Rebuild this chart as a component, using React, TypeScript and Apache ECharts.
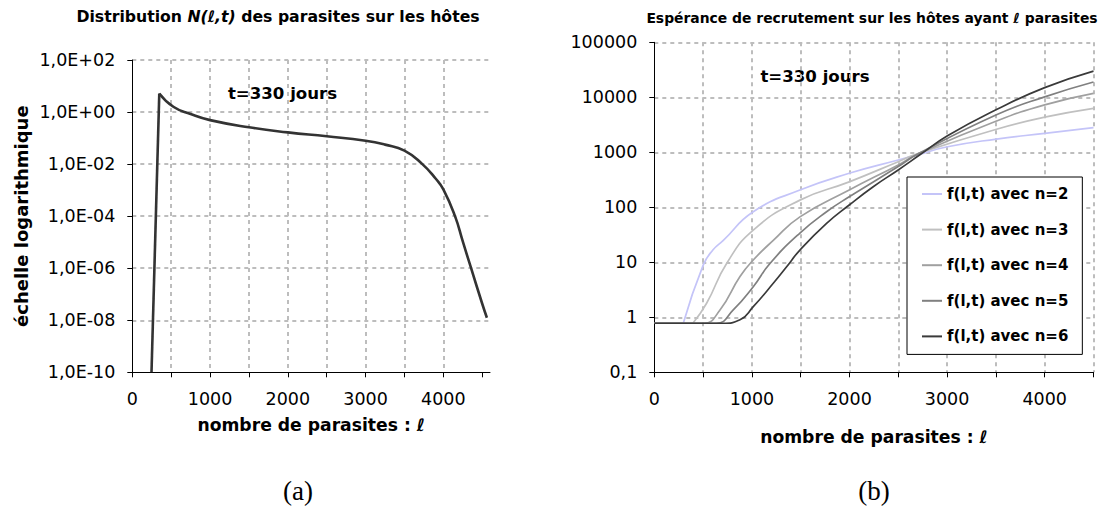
import React, { useEffect, useRef } from 'react';
import * as echarts from 'echarts';

const FONT = 'DejaVu Sans';
const SERIF = 'Liberation Serif';

// (a) Distribution N(ℓ,t) of parasites over hosts at t = 330 days
const distL = [247, 347, 528, 750, 1000, 1500, 2000, 2500, 3000, 3250, 3500, 3730, 3900, 4000, 4150, 4250, 4357, 4500, 4560];
const distN = [1e-10, 5.2, 1.6, 0.84, 0.49, 0.26, 0.166, 0.117, 0.079, 0.056, 0.033, 0.01, 2.8e-3, 1.07e-3, 1e-4, 1.07e-5, 1e-6, 4.3e-8, 1.25e-8];

// (b) Expected recruitment f(ℓ,t) for n = 2..6
const l2 = [0, 297, 500, 600, 707, 1014, 1492, 1997, 2499, 2700, 3004, 3506, 4000, 4500];
const f2 = [0.78, 0.78, 8.8, 16.7, 25, 83, 206, 415, 724, 900, 1260, 1740, 2210, 2800];
const l3 = [0, 395, 536, 741, 1014, 1492, 1997, 2499, 2700, 3506, 4000, 4500];
const f3 = [0.78, 0.78, 1.8, 9.5, 38.6, 135, 290, 675, 950, 2630, 4350, 6300];
const l4 = [0, 506, 673, 878, 1014, 1219, 1492, 1997, 2499, 2700, 3506, 4000, 4500];
const f4 = [0.78, 0.78, 1.36, 5.5, 11, 25, 67, 206, 590, 930, 3700, 7300, 11800];
const l5 = [0, 635, 809, 1014, 1185, 1492, 1765, 1997, 2499, 2700, 3506, 4000, 4500];
const f5 = [0.78, 0.78, 1.36, 3.6, 9.5, 34, 83, 155, 550, 930, 4800, 10200, 19000];
const l6 = [0, 700, 878, 1014, 1219, 1356, 1492, 1765, 1997, 2243, 2499, 2721, 3004, 3506, 4000, 4500];
const f6 = [0.78, 0.78, 0.9, 1.56, 4.15, 8.3, 16.7, 51, 110, 237, 478, 900, 2000, 6000, 15000, 30000];

const recruitNames = ['f(l,t) avec n=2', 'f(l,t) avec n=3', 'f(l,t) avec n=4', 'f(l,t) avec n=5', 'f(l,t) avec n=6'];
const recruitColors = ['#c4c4f8', '#c0c0c0', '#a0a0a0', '#808080', '#3a3a3a'];
const recruitL = [l2, l3, l4, l5, l6];
const recruitF = [f2, f3, f4, f5, f6];
// curves whose departure from the plateau is a sharp corner
const sharpCorner = [true, true, false, false, false];

const xTicksA = [0, 500, 1000, 1500, 2000, 2500, 3000, 3500, 4000, 4500];
const xLabels = [0, 1000, 2000, 3000, 4000];

const pair = (xs: number[], ys: number[]) => xs.map((x, i) => [x, ys[i]]);

const sciLabel = (v: number) => {
  const e = Math.round(Math.log10(v));
  const sign = e < 0 ? '-' : '+';
  const a = Math.abs(e);
  return '1,0E' + sign + (a < 10 ? '0' + a : String(a));
};
const plainLabel = (v: number) => (v < 1 ? String(v).replace('.', ',') : String(Math.round(v)));
const thousandLabel = (v: number) => (v % 1000 === 0 && v <= 4000 ? String(v) : '');

const gridLine = { show: true, showMinLine: false, lineStyle: { color: '#bdbdbd', width: 2, type: [4, 4] as any } };
const axisLine = { show: true, onZero: false, lineStyle: { color: '#000', width: 1 } };
const tickLabel = { color: '#000', fontFamily: FONT, fontSize: 17.5 };
const boldName = { color: '#000', fontFamily: FONT, fontWeight: 'bold' as const, fontSize: 17.2 };

export default function App() {
  const ref = useRef<HTMLDivElement>(null);

  useEffect(() => {
    if (!ref.current) return;
    const chart = echarts.init(ref.current, undefined, { renderer: 'svg' });

    const recruitSeries: any[] = [];
    recruitNames.forEach((name, i) => {
      const pts = pair(recruitL[i], recruitF[i]);
      const base = {
        name,
        type: 'line',
        xAxisIndex: 1,
        yAxisIndex: 1,
        symbol: 'none',
        color: recruitColors[i],
        lineStyle: { color: recruitColors[i], width: 1.7 },
      };
      if (sharpCorner[i]) {
        // plateau drawn straight, rising branch smoothed from the corner point
        recruitSeries.push({ ...base, data: pts.slice(0, 2) });
        recruitSeries.push({ ...base, data: pts.slice(1), smooth: true });
      } else {
        recruitSeries.push({ ...base, data: pts, smooth: true });
      }
    });

    chart.setOption({
      animation: false,
      backgroundColor: '#fff',
      grid: [
        { left: 132.3, top: 60, width: 357.7, height: 312.3 },
        { left: 654.3, top: 42.3, width: 439.2, height: 330 },
      ],
      xAxis: [
        {
          gridIndex: 0,
          type: 'value',
          min: 0,
          max: 4600,
          interval: 500,
          axisLine,
          axisTick: { show: true, length: 5, customValues: xTicksA, lineStyle: { color: '#000' } },
          axisLabel: { ...tickLabel, margin: 18, customValues: xLabels, formatter: thousandLabel },
          splitLine: { ...gridLine, showMaxLine: false },
          name: 'nombre de parasites : ℓ',
          nameLocation: 'middle',
          nameGap: 44,
          nameTextStyle: boldName,
        },
        {
          gridIndex: 1,
          type: 'value',
          min: 0,
          max: 4500,
          interval: 500,
          axisLine,
          axisTick: { show: true, length: 5, lineStyle: { color: '#000' } },
          axisLabel: { ...tickLabel, margin: 18, customValues: xLabels, formatter: thousandLabel },
          splitLine: gridLine,
          name: 'nombre de parasites : ℓ',
          nameLocation: 'middle',
          nameGap: 56,
          nameTextStyle: boldName,
        },
      ],
      yAxis: [
        {
          gridIndex: 0,
          type: 'log',
          logBase: 100,
          min: 1e-10,
          max: 100,
          axisLine,
          axisTick: { show: true, length: 5, lineStyle: { color: '#000' } },
          axisLabel: { ...tickLabel, margin: 17, formatter: sciLabel },
          splitLine: gridLine,
          name: 'échelle logarithmique',
          nameLocation: 'middle',
          nameGap: 102,
          nameTextStyle: { ...boldName, fontSize: 18 },
        },
        {
          gridIndex: 1,
          type: 'log',
          logBase: 10,
          min: 0.1,
          max: 100000,
          axisLine,
          axisTick: { show: true, length: 5, lineStyle: { color: '#000' } },
          axisLabel: { ...tickLabel, margin: 17, formatter: plainLabel },
          splitLine: gridLine,
        },
      ],
      legend: {
        data: recruitNames,
        orient: 'vertical',
        left: 907,
        top: 177,
        padding: [8, 14, 9, 15],
        itemGap: 17.6,
        itemWidth: 20,
        itemHeight: 2,
        icon: 'rect',
        backgroundColor: '#fff',
        borderColor: '#000',
        borderWidth: 1,
        borderRadius: 0,
        textStyle: { color: '#000', fontFamily: FONT, fontWeight: 'bold', fontSize: 15, lineHeight: 18 },
      },
      series: [
        {
          name: 'N rise',
          type: 'line',
          xAxisIndex: 0,
          yAxisIndex: 0,
          data: pair(distL.slice(0, 2), distN.slice(0, 2)),
          symbol: 'none',
          lineStyle: { color: '#333', width: 2.6 },
        },
        {
          name: 'N(l,t)',
          type: 'line',
          xAxisIndex: 0,
          yAxisIndex: 0,
          data: pair(distL.slice(1), distN.slice(1)),
          smooth: true,
          symbol: 'none',
          lineStyle: { color: '#333', width: 2.6 },
        },
        ...recruitSeries,
      ],
      graphic: [
        {
          type: 'text',
          x: 278,
          y: 16,
          style: {
            text: '{b|Distribution }{i|N(ℓ,t)}{b| des parasites sur les hôtes}',
            rich: {
              b: { fontFamily: FONT, fontWeight: 'bold', fontSize: 15.7, fill: '#000' },
              i: { fontFamily: FONT, fontWeight: 'bold', fontStyle: 'italic', fontSize: 15.7, fill: '#000' },
            },
            align: 'center',
            verticalAlign: 'middle',
          },
        },
        {
          type: 'text',
          x: 872,
          y: 18,
          style: {
            text: 'Espérance de recrutement sur les hôtes ayant ℓ parasites',
            fontFamily: FONT,
            fontWeight: 'bold',
            fontSize: 13.9,
            fill: '#000',
            align: 'center',
            verticalAlign: 'middle',
          },
        },
        {
          type: 'text',
          x: 282.5,
          y: 93,
          style: { text: 't=330 jours', fontFamily: FONT, fontWeight: 'bold', fontSize: 16.6, fill: '#000', align: 'center', verticalAlign: 'middle' },
        },
        {
          type: 'text',
          x: 815,
          y: 76.7,
          style: { text: 't=330 jours', fontFamily: FONT, fontWeight: 'bold', fontSize: 16.6, fill: '#000', align: 'center', verticalAlign: 'middle' },
        },
        {
          type: 'text',
          x: 298,
          y: 491,
          style: { text: '(a)', fontFamily: SERIF, fontSize: 27, fill: '#000', align: 'center', verticalAlign: 'middle' },
        },
        {
          type: 'text',
          x: 874,
          y: 491,
          style: { text: '(b)', fontFamily: SERIF, fontSize: 27, fill: '#000', align: 'center', verticalAlign: 'middle' },
        },
      ],
    });

    return () => chart.dispose();
  }, []);

  return (
    <div
      ref={ref}
      style={{ position: 'fixed', left: 0, top: 0, width: 1104, height: 510, background: '#fff' }}
    />
  );
}
